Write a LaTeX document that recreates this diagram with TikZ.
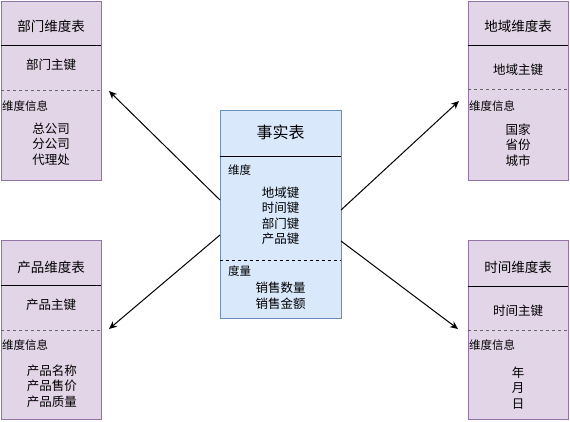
\documentclass[tikz,border=0pt]{standalone}
\usepackage{fontspec}
\setmainfont{Noto Sans CJK SC}
\usetikzlibrary{arrows.meta}
\definecolor{pfill}{HTML}{E1D5E7}
\definecolor{pdraw}{HTML}{9673A6}
\definecolor{bfill}{HTML}{DAE8FC}
\definecolor{bdraw}{HTML}{6C8EBF}
\definecolor{dashgray}{HTML}{666666}
\begin{document}
\begin{tikzpicture}[x=1pt,y=-1pt,
  dimbox/.style={draw=pdraw, fill=pfill, line width=1pt, rectangle, anchor=north west,
    minimum width=100pt, minimum height=179pt, inner sep=0pt},
  factbox/.style={draw=bdraw, fill=bfill, line width=1pt, rectangle, anchor=north west,
    minimum width=121pt, minimum height=208pt, inner sep=0pt},
  title/.style={font=\fontsize{13.5}{16}\selectfont, inner sep=0pt},
  bigtitle/.style={font=\fontsize{16}{19}\selectfont, inner sep=0pt},
  body/.style={font=\fontsize{12.5}{15.5}\selectfont, align=center, inner sep=0pt},
  small/.style={font=\fontsize{11.5}{14}\selectfont, anchor=west, inner sep=0pt},
  solidsep/.style={draw=black, line width=1pt},
  graysep/.style={draw=dashgray, line width=1pt, dash pattern=on 3pt off 3pt},
  blacksep/.style={draw=black, line width=1pt, dash pattern=on 3pt off 3pt},
  conn/.style={draw=black, line width=1pt, -{Stealth[length=8pt,width=7pt]}}
]
\useasboundingbox (0,0) rectangle (570,421);

% ---- top-left: 部门维度表
\node[dimbox] (dept) at (1,1) {};
\draw[solidsep] (1,45) -- (101,45);
\draw[graysep] (1,90) -- (101,90);
\node[title] (deptT) at (51,26) {部门维度表};
\node[body] (deptK) at (51,65) {部门主键};
\node[small] (deptI) at (2,106) {维度信息};
\node[body] (deptV) at (51,144) {总公司\\分公司\\代理处};

% ---- bottom-left: 产品维度表
\node[dimbox] (prod) at (1,240) {};
\draw[solidsep] (1,285) -- (101,285);
\draw[graysep] (1,330) -- (101,330);
\node[title] (prodT) at (51,267) {产品维度表};
\node[body] (prodK) at (51,305) {产品主键};
\node[small] (prodI) at (2,345) {维度信息};
\node[body] (prodV) at (52,386) {产品名称\\产品售价\\产品质量};

% ---- top-right: 地域维度表
\node[dimbox] (geo) at (468,1) {};
\draw[solidsep] (468,45) -- (568,45);
\draw[graysep] (468,89) -- (568,89);
\node[title] (geoT) at (518,26) {地域维度表};
\node[body] (geoK) at (518,70) {地域主键};
\node[small] (geoI) at (469,106) {维度信息};
\node[body] (geoV) at (518,145) {国家\\省份\\城市};

% ---- bottom-right: 时间维度表
\node[dimbox] (time) at (468,240) {};
\draw[solidsep] (468,286) -- (568,286);
\draw[graysep] (468,330) -- (568,330);
\node[title] (timeT) at (518,267) {时间维度表};
\node[body] (timeK) at (518,311) {时间主键};
\node[small] (timeI) at (469,345) {维度信息};
\node[body] (timeV) at (518,388) {年\\月\\日};

% ---- center: 事实表
\node[factbox] (fact) at (220,110) {};
\draw[solidsep] (220,156) -- (341,156);
\draw[blacksep] (220,260) -- (341,260);
\node[bigtitle] (factT) at (280.5,132) {事实表};
\node[small] (factD) at (228,170) {维度};
\node[body] (factK) at (280.5,216) {地域键\\时间键\\部门键\\产品键};
\node[small] (factM) at (228,271) {度量};
\node[body] (factV) at (280.5,296) {销售数量\\销售金额};

% ---- connectors
\coordinate (s1) at (220,200);
\coordinate (s2) at (220,235);
\coordinate (s3) at (341,210);
\coordinate (s4) at (341,241);
\coordinate (t1) at (109,91);
\coordinate (t2) at (109,329);
\coordinate (t3) at (459,101);
\coordinate (t4) at (458,329);
\draw[conn] (s1) -- (t1);
\draw[conn] (s2) -- (t2);
\draw[conn] (s3) -- (t3);
\draw[conn] (s4) -- (t4);
\end{tikzpicture}
\end{document}
